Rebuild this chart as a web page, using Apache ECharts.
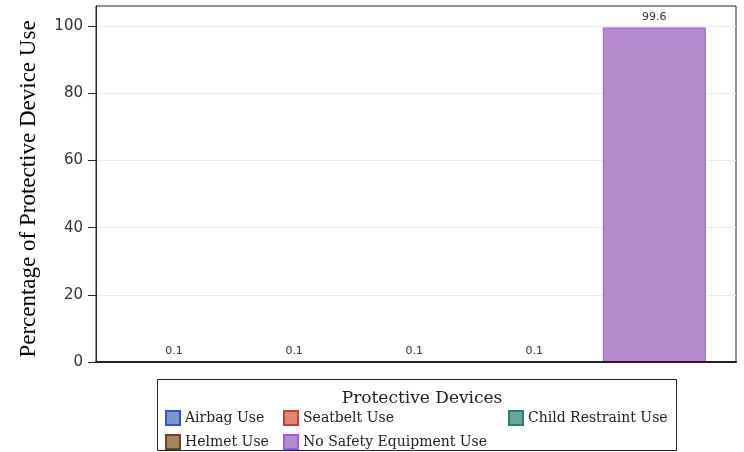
<!DOCTYPE html>
<html>
<head>
<meta charset="utf-8">
<script src="https://cdn.jsdelivr.net/npm/echarts@6/dist/echarts.min.js"></script>
<style>html,body{margin:0;padding:0;background:#fff}#c{width:744px;height:452px}</style>
</head>
<body>
<div id="c"></div>
<script>
const categories = ['Airbag Use', 'Seatbelt Use', 'Child Restraint Use', 'Helmet Use', 'No Safety Equipment Use'];
const values = [0.1, 0.1, 0.1, 0.1, 99.6];
const positions = [1, 2, 3, 4, 5];
const fillColors = ['#7f96cb', '#e08677', '#67a69d', '#a78360', '#b48bcd'];
const borderColors = ['#3a4ed8', '#c8403c', '#2a7b70', '#6b4622', '#a656e2'];
const yTicks = [0, 20, 40, 60, 80, 100];
const legendTitle = 'Protective Devices';
const yTitle = 'Percentage of Protective Device Use';

const chart = echarts.init(document.getElementById('c'), null, {renderer: 'canvas'});

const series = categories.map((name, i) => ({
  name: name,
  type: 'bar',
  data: [[positions[i], values[i]]],
  barWidth: 103,
  barGap: '-100%',
  z: 2,
  itemStyle: {color: fillColors[i], borderColor: borderColors[i], borderWidth: 1},
  label: {
    show: true, position: 'top', distance: 5,
    fontFamily: 'DejaVu Sans', fontSize: 11, color: '#333',
    formatter: p => p.value[1].toFixed(1)
  }
}));

const legendItem = {fontFamily: 'DejaVu Serif', fontSize: 14, color: '#222'};
function mkLegend(names, left) {
  return {
    data: names, orient: 'vertical', left: left, top: 410,
    itemWidth: 14, itemHeight: 14, itemGap: 8, padding: 0,
    textStyle: legendItem, selectedMode: false,
    icon: 'rect'
  };
}

chart.setOption({
  animation: false,
  grid: {left: 96, right: 8, top: 6, bottom: 90, show: true, borderColor: '#222', borderWidth: 1},
  xAxis: {
    type: 'value', min: 0.35, max: 5.68, z: 5,
    axisLine: {show: true, onZero: false, lineStyle: {color: '#222', width: 2}},
    axisTick: {show: false}, axisLabel: {show: false}, splitLine: {show: false}
  },
  yAxis: {
    type: 'value', min: 0, max: 106, interval: 20, z: 0,
    name: yTitle, nameLocation: 'middle', nameGap: 56,
    nameTextStyle: {fontFamily: 'Liberation Serif', fontSize: 23, color: '#000', padding: [0, 10, 0, 0]},
    axisLine: {show: true, lineStyle: {color: '#222'}},
    axisTick: {show: true, length: 8, customValues: yTicks, lineStyle: {color: '#222'}},
    axisLabel: {fontFamily: 'DejaVu Sans', fontSize: 15, color: '#333', margin: 13,
      customValues: yTicks},
    splitLine: {show: true, lineStyle: {color: '#ebebeb'}}
  },
  title: {
    text: legendTitle, left: 417, top: 385, textAlign: 'center',
    textStyle: {fontFamily: 'DejaVu Serif', fontSize: 17, fontWeight: 'normal', color: '#222'}
  },
  legend: [
    mkLegend([categories[0], categories[3]], 165),
    mkLegend([categories[1], categories[4]], 283),
    mkLegend([categories[2]], 508)
  ],
  graphic: [{
    type: 'rect', z: 0,
    shape: {x: 157.5, y: 379.5, width: 519, height: 71},
    style: {fill: 'none', stroke: '#222', lineWidth: 1}
  }],
  series: series
});
</script>
</body>
</html>
